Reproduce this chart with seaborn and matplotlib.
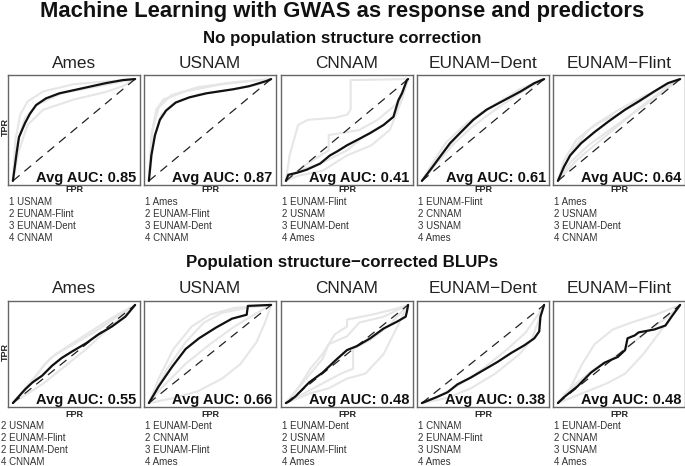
import numpy as np
import pandas as pd
import matplotlib
matplotlib.use("Agg")
import matplotlib.pyplot as plt
import seaborn as sns

# ---------------- data ----------------
TITLE = "Machine Learning with GWAS as response and predictors"
ROW_TITLES = ["No population structure correction", "Population structure\u2212corrected BLUPs"]
PANELS = ["Ames", "USNAM", "CNNAM", "EUNAM\u2212Dent", "EUNAM\u2212Flint"]

AUC_NC = [0.85, 0.87, 0.41, 0.61, 0.64]
AUC_PC = [0.55, 0.66, 0.48, 0.38, 0.48]

RANK_NC = [
    ["1 USNAM", "2 EUNAM-Flint", "3 EUNAM-Dent", "4 CNNAM"],
    ["1 Ames", "2 EUNAM-Flint", "3 EUNAM-Dent", "4 CNNAM"],
    ["1 EUNAM-Flint", "2 USNAM", "3 EUNAM-Dent", "4 Ames"],
    ["1 EUNAM-Flint", "2 CNNAM", "3 USNAM", "4 Ames"],
    ["1 Ames", "2 USNAM", "3 EUNAM-Dent", "4 CNNAM"],
]
RANK_PC = [
    ["2 USNAM", "2 EUNAM-Flint", "2 EUNAM-Dent", "4 CNNAM"],
    ["1 EUNAM-Dent", "2 CNNAM", "3 EUNAM-Flint", "4 Ames"],
    ["1 EUNAM-Dent", "2 USNAM", "3 EUNAM-Flint", "4 Ames"],
    ["1 CNNAM", "2 EUNAM-Flint", "3 USNAM", "4 Ames"],
    ["1 EUNAM-Dent", "2 CNNAM", "3 USNAM", "4 Ames"],
]

# mean ROC curves (black), no correction
NC_AMES_FPR = [0, 0.03, 0.05, 0.10, 0.14, 0.19, 0.27, 0.38, 0.57, 0.76, 0.90, 1.0]
NC_AMES_TPR = [0, 0.27, 0.43, 0.57, 0.66, 0.745, 0.81, 0.86, 0.91, 0.96, 0.99, 1.0]
NC_USNAM_FPR = [0, 0.02, 0.05, 0.09, 0.14, 0.22, 0.33, 0.47, 0.69, 0.82, 0.96, 1.0]
NC_USNAM_TPR = [0, 0.25, 0.45, 0.60, 0.69, 0.77, 0.82, 0.86, 0.90, 0.93, 0.98, 1.0]
NC_CNNAM_FPR = [0, 0.02, 0.09, 0.17, 0.28, 0.36, 0.42, 0.50, 0.58, 0.69, 0.80, 0.88, 0.92, 0.95, 0.99, 1.0]
NC_CNNAM_TPR = [0, 0.06, 0.08, 0.11, 0.17, 0.25, 0.29, 0.35, 0.40, 0.47, 0.55, 0.63, 0.79, 0.86, 0.99, 1.0]
NC_DENT_FPR = [0, 0.07, 0.15, 0.23, 0.32, 0.42, 0.53, 0.67, 0.81, 0.92, 1.0]
NC_DENT_TPR = [0, 0.11, 0.24, 0.37, 0.48, 0.60, 0.70, 0.79, 0.88, 0.96, 1.0]
NC_FLINT_FPR = [0, 0.05, 0.10, 0.19, 0.30, 0.41, 0.55, 0.66, 0.79, 0.90, 1.0]
NC_FLINT_TPR = [0, 0.14, 0.25, 0.37, 0.48, 0.58, 0.70, 0.78, 0.88, 0.96, 1.0]

# mean ROC curves (black), population-structure corrected
PC_AMES_FPR = [0, 0.05, 0.10, 0.16, 0.24, 0.32, 0.40, 0.49, 0.60, 0.70, 0.81, 0.92, 1.0]
PC_AMES_TPR = [0, 0.07, 0.14, 0.21, 0.28, 0.38, 0.46, 0.53, 0.61, 0.70, 0.78, 0.88, 1.0]
PC_USNAM_FPR = [0, 0.08, 0.19, 0.30, 0.41, 0.55, 0.68, 0.80, 0.81, 1.0]
PC_USNAM_TPR = [0, 0.17, 0.37, 0.55, 0.66, 0.77, 0.86, 0.90, 0.99, 1.0]
PC_CNNAM_FPR = [0, 0.03, 0.08, 0.19, 0.30, 0.41, 0.50, 0.58, 0.69, 0.80, 0.91, 0.98, 0.99, 1.0]
PC_CNNAM_TPR = [0, 0.02, 0.07, 0.21, 0.31, 0.44, 0.54, 0.58, 0.66, 0.76, 0.83, 0.88, 0.93, 1.0]
PC_DENT_FPR = [0, 0.04, 0.12, 0.21, 0.29, 0.40, 0.51, 0.62, 0.73, 0.84, 0.92, 0.96, 0.97, 1.0]
PC_DENT_TPR = [0, 0.02, 0.06, 0.11, 0.19, 0.26, 0.34, 0.42, 0.51, 0.59, 0.66, 0.73, 0.88, 1.0]
PC_FLINT_FPR = [0, 0.05, 0.16, 0.27, 0.38, 0.49, 0.55, 0.57, 0.63, 0.66, 0.79, 0.88, 0.93, 1.0]
PC_FLINT_TPR = [0, 0.06, 0.17, 0.31, 0.41, 0.47, 0.54, 0.66, 0.69, 0.72, 0.75, 0.79, 0.88, 1.0]

# individual ROC curves (light grey)
NC_AMES_GREY = [
    ([0, 0.02, 0.06, 0.12, 0.25, 0.5, 1.0], [0, 0.40, 0.65, 0.78, 0.88, 0.95, 1.0]),
    ([0, 0.05, 0.12, 0.25, 0.5, 0.75, 0.9, 1.0], [0, 0.30, 0.55, 0.70, 0.80, 0.87, 0.93, 1.0]),
    ([0, 0.03, 0.10, 0.20, 0.40, 0.70, 1.0], [0, 0.35, 0.62, 0.75, 0.86, 0.93, 1.0]),
]
NC_USNAM_GREY = [
    ([0, 0.02, 0.06, 0.12, 0.30, 0.60, 1.0], [0, 0.45, 0.70, 0.80, 0.88, 0.95, 1.0]),
    ([0, 0.04, 0.10, 0.20, 0.40, 0.70, 0.90, 1.0], [0, 0.40, 0.65, 0.76, 0.85, 0.90, 0.95, 1.0]),
    ([0, 0.03, 0.08, 0.18, 0.40, 0.70, 1.0], [0, 0.50, 0.72, 0.84, 0.92, 0.97, 1.0]),
]
NC_CNNAM_GREY = [
    ([0, 0.03, 0.10, 0.18, 0.40, 0.50, 0.53, 0.53, 1.0], [0, 0.25, 0.55, 0.60, 0.62, 0.65, 0.70, 0.99, 1.0]),
    ([0, 0.10, 0.30, 0.50, 0.70, 0.85, 0.95, 1.0], [0, 0.05, 0.10, 0.25, 0.35, 0.50, 0.80, 1.0]),
    ([0, 0.15, 0.35, 0.35, 0.60, 0.75, 0.90, 1.0], [0, 0.15, 0.30, 0.45, 0.50, 0.60, 0.75, 1.0]),
    ([0, 0.10, 0.30, 0.50, 0.65, 0.80, 0.90, 1.0], [0, 0.10, 0.18, 0.30, 0.45, 0.55, 0.65, 1.0]),
]
NC_DENT_GREY = [
    ([0, 0.10, 0.20, 0.35, 0.50, 0.70, 0.90, 1.0], [0, 0.20, 0.38, 0.55, 0.68, 0.82, 0.95, 1.0]),
    ([0, 0.10, 0.25, 0.40, 0.60, 0.80, 1.0], [0, 0.14, 0.35, 0.52, 0.70, 0.86, 1.0]),
    ([0, 0.12, 0.30, 0.45, 0.60, 0.80, 1.0], [0, 0.20, 0.45, 0.63, 0.75, 0.90, 1.0]),
]
NC_FLINT_GREY = [
    ([0, 0.05, 0.15, 0.30, 0.50, 0.70, 0.90, 1.0], [0, 0.20, 0.40, 0.55, 0.70, 0.83, 0.94, 1.0]),
    ([0, 0.10, 0.25, 0.40, 0.60, 0.80, 1.0], [0, 0.18, 0.35, 0.48, 0.65, 0.82, 1.0]),
    ([0, 0.12, 0.25, 0.35, 0.50, 0.70, 0.90, 1.0], [0, 0.30, 0.50, 0.58, 0.66, 0.80, 0.95, 1.0]),
    ([0, 0.15, 0.30, 0.50, 0.70, 0.85, 1.0], [0, 0.20, 0.35, 0.55, 0.75, 0.88, 1.0]),
]
PC_AMES_GREY = [
    ([0, 0.10, 0.20, 0.30, 0.45, 0.60, 0.80, 1.0], [0, 0.15, 0.30, 0.45, 0.58, 0.70, 0.86, 1.0]),
    ([0, 0.10, 0.25, 0.40, 0.60, 0.80, 1.0], [0, 0.08, 0.20, 0.35, 0.55, 0.78, 1.0]),
    ([0, 0.15, 0.25, 0.35, 0.50, 0.70, 0.90, 1.0], [0, 0.20, 0.38, 0.50, 0.60, 0.75, 0.92, 1.0]),
]
PC_USNAM_GREY = [
    ([0, 0.08, 0.20, 0.35, 0.50, 0.70, 1.0], [0, 0.25, 0.55, 0.78, 0.90, 0.97, 1.0]),
    ([0, 0.20, 0.40, 0.60, 0.75, 0.88, 0.95, 1.0], [0, 0.05, 0.12, 0.25, 0.40, 0.62, 0.82, 1.0]),
    ([0, 0.15, 0.30, 0.45, 0.60, 0.80, 1.0], [0, 0.35, 0.62, 0.82, 0.92, 0.97, 1.0]),
    ([0, 0.10, 0.30, 0.50, 0.70, 0.90, 1.0], [0, 0.15, 0.40, 0.60, 0.78, 0.93, 1.0]),
]
PC_CNNAM_GREY = [
    ([0, 0.10, 0.20, 0.30, 0.40, 0.50, 0.50, 0.70, 0.90, 1.0], [0, 0.15, 0.35, 0.50, 0.70, 0.78, 0.85, 0.90, 0.96, 1.0]),
    ([0, 0.15, 0.30, 0.45, 0.55, 0.55, 0.70, 0.85, 1.0], [0, 0.10, 0.20, 0.30, 0.35, 0.55, 0.65, 0.80, 1.0]),
    ([0, 0.20, 0.30, 0.35, 0.50, 0.60, 0.80, 1.0], [0, 0.30, 0.45, 0.60, 0.68, 0.82, 0.88, 1.0]),
    ([0, 0.20, 0.35, 0.50, 0.65, 0.80, 0.90, 1.0], [0, 0.10, 0.15, 0.25, 0.30, 0.50, 0.75, 1.0]),
]
PC_DENT_GREY = [
    ([0, 0.15, 0.30, 0.50, 0.70, 0.85, 0.95, 1.0], [0, 0.08, 0.18, 0.35, 0.55, 0.72, 0.90, 1.0]),
    ([0, 0.20, 0.40, 0.60, 0.80, 0.90, 1.0], [0, 0.05, 0.15, 0.30, 0.50, 0.65, 1.0]),
]
PC_FLINT_GREY = [
    ([0, 0.10, 0.20, 0.30, 0.45, 0.60, 0.80, 1.0], [0, 0.15, 0.40, 0.60, 0.75, 0.82, 0.90, 1.0]),
    ([0, 0.20, 0.40, 0.55, 0.70, 0.85, 1.0], [0, 0.10, 0.20, 0.30, 0.50, 0.75, 1.0]),
    ([0, 0.15, 0.30, 0.50, 0.70, 0.90, 1.0], [0, 0.20, 0.35, 0.50, 0.70, 0.88, 1.0]),
]

MEANS = [
    [(NC_AMES_FPR, NC_AMES_TPR), (NC_USNAM_FPR, NC_USNAM_TPR), (NC_CNNAM_FPR, NC_CNNAM_TPR),
     (NC_DENT_FPR, NC_DENT_TPR), (NC_FLINT_FPR, NC_FLINT_TPR)],
    [(PC_AMES_FPR, PC_AMES_TPR), (PC_USNAM_FPR, PC_USNAM_TPR), (PC_CNNAM_FPR, PC_CNNAM_TPR),
     (PC_DENT_FPR, PC_DENT_TPR), (PC_FLINT_FPR, PC_FLINT_TPR)],
]
GREYS = [
    [NC_AMES_GREY, NC_USNAM_GREY, NC_CNNAM_GREY, NC_DENT_GREY, NC_FLINT_GREY],
    [PC_AMES_GREY, PC_USNAM_GREY, PC_CNNAM_GREY, PC_DENT_GREY, PC_FLINT_GREY],
]
AUCS = [AUC_NC, AUC_PC]
RANKS = [RANK_NC, RANK_PC]

# ---------------- layout ----------------
sns.set_style("white")
plt.rcParams["font.family"] = ["Liberation Sans", "DejaVu Sans"]

W, H = 685, 466
fig = plt.figure(figsize=(W / 100, H / 100), dpi=100)

def fx(px):
    return px / W

def fy(py):
    return 1 - py / H

COL_LEFT = [8, 144, 281, 417, 553]
COL_W = 132
ROW_BOX = [(75, 185), (301, 407)]
ROW_SUB_Y = [42.5, 267]
ROW_PTITLE_Y = [67.5, 293]
ROW_FPR_Y = [189.5, 414.5]
ROW_TPR_Y = [127, 352]
ROW_LIST_Y = [[202, 214, 226, 238], [426, 438, 450, 462]]

fig.text(0.5, fy(17.5), TITLE, ha="center", va="baseline", fontsize=15.8, fontweight="bold", color="#111111")

for r in range(2):
    fig.text(0.5, fy(ROW_SUB_Y[r]), ROW_TITLES[r], ha="center", va="baseline",
             fontsize=12.2, fontweight="bold", color="#111111")
    top, bot = ROW_BOX[r]
    for c in range(5):
        left = COL_LEFT[c]
        ax = fig.add_axes([fx(left), fy(bot), COL_W / W, (bot - top) / H])
        # grey individual curves
        rows = []
        for k, (gx, gy) in enumerate(GREYS[r][c]):
            for i, (a, b) in enumerate(zip(gx, gy)):
                rows.append({"curve": k, "order": i, "fpr": a, "tpr": b})
        gdf = pd.DataFrame(rows)
        sns.lineplot(data=gdf, x="fpr", y="tpr", units="curve", estimator=None, sort=False,
                     color="#e6e6e6", linewidth=1.5, ax=ax, legend=False)
        # diagonal
        diag = pd.DataFrame({"fpr": [0, 1], "tpr": [0, 1]})
        sns.lineplot(data=diag, x="fpr", y="tpr", color="#222222", linewidth=0.9,
                     ax=ax, linestyle=(0, (7, 5)))
        # mean curve
        mx, my = MEANS[r][c]
        mdf = pd.DataFrame({"fpr": mx, "tpr": my})
        sns.lineplot(data=mdf, x="fpr", y="tpr", sort=False, estimator=None,
                     color="#111111", linewidth=1.6, ax=ax)
        ax.set_xlim(-0.04, 1.04)
        ax.set_ylim(-0.04, 1.04)
        ax.set_xticks([])
        ax.set_yticks([])
        ax.set_xlabel("")
        ax.set_ylabel("")
        for s in ax.spines.values():
            s.set_color("#666666")
            s.set_linewidth(1.0)
            s.set_visible(True)
        ax.text(0.975, 0.025, f"Avg AUC: {AUCS[r][c]:.2f}", transform=ax.transAxes,
                ha="right", va="baseline", fontsize=10.5, fontweight="bold", color="#111111")
        cx = left + COL_W / 2
        fig.text(fx(cx), fy(ROW_PTITLE_Y[r]), PANELS[c], ha="center", va="baseline",
                 fontsize=12.4, color="#222222")
        fig.text(fx(cx), fy(ROW_FPR_Y[r]), "FPR", ha="center", va="center",
                 fontsize=6.5, fontweight="bold", color="#222222")
        lx = left + 1 if not (r == 1 and c == 0) else 1
        for j, line in enumerate(RANKS[r][c]):
            fig.text(fx(lx), fy(ROW_LIST_Y[r][j]), line, ha="left", va="center",
                     fontsize=7, color="#333333")
    fig.text(fx(5), fy(ROW_TPR_Y[r]), "TPR", ha="center", va="center", rotation=90,
             fontsize=6.5, fontweight="bold", color="#222222")

fig.savefig("out.png", dpi=100)
